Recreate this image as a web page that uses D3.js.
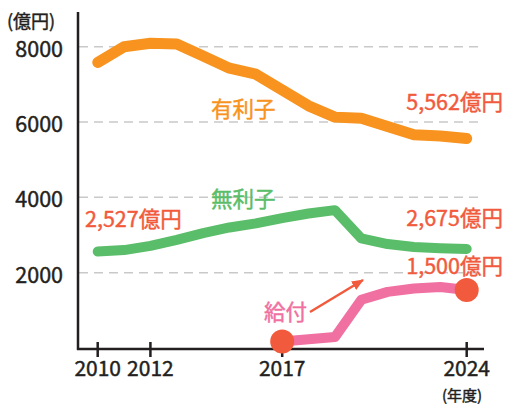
<!DOCTYPE html>
<html>
<head>
<meta charset="utf-8">
<script src="https://cdn.jsdelivr.net/npm/d3@7"></script>
<style>
  body { margin: 0; background: #fff; }
  text { font-family: "Noto Sans CJK JP", "Noto Sans", sans-serif; }
</style>
</head>
<body>
<svg id="viz-svg" width="505" height="404"></svg>
<script>
// data (億円)
var years = [2010, 2011, 2012, 2013, 2014, 2015, 2016, 2017, 2018, 2019, 2020, 2021, 2022, 2023, 2024]
  , interestLoan = [7580, 8000, 8090, 8070, 7750, 7430, 7270, 6850, 6430, 6130, 6100, 5880, 5660, 5630, 5562]
  , freeLoan = [2560, 2600, 2710, 2870, 3050, 3200, 3310, 3450, 3570, 3660, 2910, 2760, 2680, 2650, 2630]
  , grantYears = [2017, 2018, 2019, 2020, 2021, 2022, 2023, 2024]
  , grant = [170, 230, 290, 1280, 1490, 1580, 1620, 1540]
  , yTicks = [2000, 4000, 6000, 8000]
  , xTicks = [2010, 2012, 2017, 2024]
  ;

var svg = d3.select("#viz-svg")
  , orange = "#f7931e"
  , green = "#5abd69"
  , pink = "#f070a1"
  , red = "#f15a3c"
  , ink = "#231f20";

var x = d3.scaleLinear().domain([2010, 2024]).range([97.7, 466.7])
  , y = d3.scaleLinear().domain([0, 8000]).range([348, 46.7]);

// medium-ish weight: thin stroke in the fill colour
function ink_text(sel, color){
  return sel.attr("fill", color)
    .attr("stroke", color)
    .attr("stroke-width", 0.45);
}

// dashed grid
svg.append("g").selectAll("line")
  .data(yTicks)
  .enter().append("line")
  .attr("x1", 79).attr("x2", 484)
  .attr("y1", function(d){ return y(d); })
  .attr("y2", function(d){ return y(d); })
  .attr("stroke", "#c9c9c9")
  .attr("stroke-width", 1.5)
  .attr("stroke-dasharray", "9,6");

// y tick labels
ink_text(svg.append("g").selectAll("text")
  .data(yTicks)
  .enter().append("text")
  .attr("x", 63)
  .attr("y", function(d){ return y(d) + 10; })
  .attr("text-anchor", "end")
  .attr("font-size", 21.5)
  .text(function(d){ return d; }), ink);

// axes
svg.append("line")
  .attr("x1", 78).attr("x2", 78).attr("y1", 12).attr("y2", 350)
  .attr("stroke", ink).attr("stroke-width", 2.5);
svg.append("line")
  .attr("x1", 77).attr("x2", 484).attr("y1", 349).attr("y2", 349)
  .attr("stroke", ink).attr("stroke-width", 2.5);

svg.append("g").selectAll("line")
  .data(xTicks)
  .enter().append("line")
  .attr("x1", function(d){ return x(d); })
  .attr("x2", function(d){ return x(d); })
  .attr("y1", 342).attr("y2", 357)
  .attr("stroke", ink).attr("stroke-width", 2.5);

ink_text(svg.append("g").selectAll("text")
  .data(xTicks)
  .enter().append("text")
  .attr("x", function(d){ return x(d); })
  .attr("y", 376)
  .attr("text-anchor", "middle")
  .attr("font-size", 21)
  .text(function(d){ return d; }), ink);

ink_text(svg.append("text")
  .attr("x", 7).attr("y", 28)
  .attr("font-size", 18)
  .text("(億円)"), ink);
ink_text(svg.append("text")
  .attr("x", 462).attr("y", 401)
  .attr("text-anchor", "middle")
  .attr("font-size", 15)
  .text("(年度)"), ink);

// lines
var line = d3.line()
  .x(function(d){ return x(d[0]); })
  .y(function(d){ return y(d[1]); });

function drawSeries(xs, vals, color, w){
  svg.append("path")
    .datum(d3.zip(xs, vals))
    .attr("fill", "none")
    .attr("stroke", color)
    .attr("stroke-width", w)
    .attr("stroke-linejoin", "round")
    .attr("stroke-linecap", "round")
    .attr("d", line);
}
drawSeries(years, interestLoan, orange, 11);
drawSeries(years, freeLoan, green, 10);
drawSeries(grantYears, grant, pink, 10);

// end dots on grant
svg.append("g").selectAll("circle")
  .data([[grantYears[0], grant[0]], [grantYears[grantYears.length-1], grant[grant.length-1]]])
  .enter().append("circle")
  .attr("cx", function(d){ return x(d[0]); })
  .attr("cy", function(d){ return y(d[1]); })
  .attr("r", 12)
  .attr("fill", red);

// arrow
svg.append("defs").append("marker")
  .attr("id", "arrowHead")
  .attr("viewBox", "0 0 12 10")
  .attr("refX", 11).attr("refY", 5)
  .attr("markerWidth", 12).attr("markerHeight", 10)
  .attr("markerUnits", "userSpaceOnUse")
  .attr("orient", "auto")
  .append("path")
  .attr("d", "M0,0L12,5L0,10Z")
  .attr("fill", red);
svg.append("line")
  .attr("x1", 310).attr("y1", 312)
  .attr("x2", 363).attr("y2", 280)
  .attr("stroke", red).attr("stroke-width", 2.5)
  .attr("marker-end", "url(#arrowHead)");

// labels
function label(txt, px, py, color, anchor){
  ink_text(svg.append("text")
    .attr("x", px).attr("y", py)
    .attr("text-anchor", anchor || "start")
    .attr("font-size", 21.5)
    .text(txt), color);
}
label("有利子", 211, 117, orange);
label("無利子", 211, 207, green);
label("給付", 264, 320, pink);
label("5,562億円", 503, 110, red, "end");
label("2,527億円", 85, 227, red);
label("2,675億円", 503, 226, red, "end");
label("1,500億円", 503, 274, red, "end");
</script>
</body>
</html>
